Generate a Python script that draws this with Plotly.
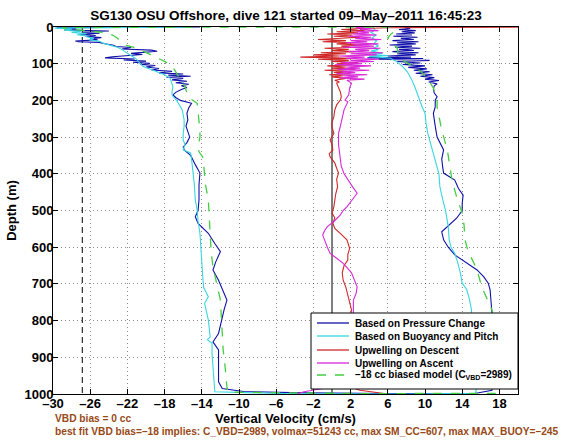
import plotly.graph_objects as go

# ---------------- data ----------------
pressure_depth = [0, 2, 5, 8, 11, 14, 17, 20, 23, 26, 29, 32, 35, 38, 40, 42, 45, 49, 53, 56, 60, 63, 66, 69, 72, 75, 78, 81, 84, 87, 90, 93, 96, 99, 102, 105, 109, 113, 117, 121, 125, 128, 131, 134, 137, 140, 144, 148, 152, 156, 160, 165, 170, 178, 185, 192, 200, 208, 220, 235, 253, 270, 285, 300, 315, 327, 335, 350, 375, 398, 430, 470, 500, 517, 535, 562, 590, 612, 640, 662, 690, 720, 744, 770, 790, 815, 835, 858, 880, 925, 967, 985, 993, 997, 999,
                  998, 990, 950, 900, 850, 800, 780, 750, 716, 698, 680, 662, 640, 621, 600, 580, 558, 544, 521, 500, 480, 458, 440, 417, 398, 381, 360, 335, 300, 270, 235, 218, 199, 190, 180, 170, 160, 155, 150, 146, 142, 138, 134, 130, 126, 122, 118, 114, 110, 106, 102, 98, 94, 91, 88, 86, 84, 82, 79, 76, 73, 70, 67, 64, 61, 58, 55, 52, 49, 46, 43, 40, 37, 34, 31, 28, 25, 22, 19, 16, 13, 10, 7, 4, 1, 0]
pressure_vel = [-14.2, -29.6, -27.5, -28.8, -24.0, -26.8, -25.0, -27.2, -25.4, -26.4, -24.8, -26.0, -25.2, -27.6, -27.3, -25.0, -24.6, -23.6, -23.2, -21.6, -22.6, -19.4, -18.8, -20.8, -21.6, -20.4, -22.4, -23.6, -24.4, -21.2, -22.4, -20.0, -21.4, -19.6, -20.6, -19.0, -20.0, -18.6, -19.4, -17.2, -18.6, -16.0, -17.6, -15.2, -17.8, -16.0, -17.2, -15.6, -16.8, -15.4, -16.2, -15.6, -16.2, -16.8, -17.1, -16.8, -16.3, -15.1, -15.4, -15.6, -15.5, -15.7, -15.5, -15.3, -15.6, -16.0, -15.9, -15.2, -14.7, -14.2, -14.3, -14.3, -14.4, -14.7, -14.4, -13.3, -12.6, -12.0, -12.5, -12.8, -12.2, -11.7, -11.3, -11.6, -11.8, -12.0, -12.2, -12.8, -12.2, -12.2, -12.2, -11.8, -9.5, -3.0, 6.0,
                15.5, 17.2, 17.3, 17.0, 17.2, 17.3, 17.2, 17.1, 17.0, 16.8, 16.3, 15.6, 14.3, 13.2, 12.5, 12.0, 11.8, 12.4, 13.4, 14.0, 14.0, 14.1, 13.6, 13.2, 12.0, 11.9, 11.8, 12.0, 11.3, 11.1, 10.9, 11.1, 11.1, 11.3, 11.0, 10.9, 11.0, 11.3, 10.4, 11.5, 10.0, 11.0, 9.5, 10.8, 9.0, 10.5, 8.8, 10.2, 8.2, 10.0, 7.6, 9.5, 7.0, 10.5, 5.0, 9.8, 3.8, 8.5, 6.0, 9.0, 7.0, 9.3, 6.5, 8.8, 7.2, 9.5, 6.8, 8.6, 6.2, 9.0, 7.0, 9.3, 6.5, 8.8, 7.4, 9.2, 6.6, 8.6, 6.9, 8.9, 7.5, 9.0, 7.2, 8.4, 7.8, 9.5]

buoyancy_depth = [0, 3, 6, 9, 12, 15, 18, 21, 24, 27, 31, 35, 39, 44, 50, 56, 63, 70, 75, 81, 88, 95, 102, 108, 115, 122, 130, 140, 150, 163, 175, 185, 192, 200, 213, 226, 240, 253, 270, 290, 308, 320, 335, 343, 360, 380, 398, 430, 471, 499, 530, 562, 600, 654, 680, 710, 735, 753, 775, 798, 820, 845, 852, 862, 890, 925, 960, 994, 999, 1000,
                  998, 990, 950, 900, 850, 800, 771, 744, 716, 698, 670, 640, 617, 600, 580, 544, 499, 470, 435, 400, 381, 360, 335, 310, 290, 260, 235, 218, 204, 185, 163, 140, 122, 108, 95, 85, 80, 78, 75, 72, 68, 65, 62, 58, 52, 45, 38, 30, 22, 15, 8, 0]
buoyancy_vel = [-15.0, -29.8, -28.0, -28.8, -27.0, -28.0, -26.4, -27.4, -26.6, -26.3, -25.6, -26.1, -25.0, -24.6, -23.8, -23.0, -22.5, -22.0, -21.8, -21.4, -21.0, -20.8, -20.5, -20.3, -19.5, -18.8, -18.0, -17.4, -17.3, -17.1, -17.2, -17.2, -17.0, -16.7, -16.4, -16.1, -16.0, -15.9, -15.9, -16.0, -16.0, -15.8, -16.0, -15.2, -15.1, -15.0, -14.9, -14.8, -14.7, -14.5, -14.4, -14.2, -14.1, -14.0, -13.9, -13.8, -13.3, -13.7, -13.5, -13.3, -13.2, -13.1, -13.4, -12.9, -12.9, -12.8, -12.7, -12.6, -5.0, 8.0,
                15.4, 15.5, 15.3, 15.2, 15.1, 15.0, 15.0, 14.8, 14.5, 14.0, 13.8, 13.5, 13.2, 12.8, 12.6, 12.5, 12.2, 11.9, 11.6, 11.5, 11.3, 11.0, 10.8, 10.5, 10.3, 10.1, 10.0, 9.7, 9.5, 9.2, 8.9, 8.5, 8.1, 7.6, 7.0, 6.3, 4.0, 6.0, 3.6, 5.4, 4.6, 4.2, 5.0, 4.4, 5.0, 4.5, 4.8, 4.3, 4.7, 4.2, 4.6, 4.4]

upwell_desc_depth = [0, 1, 2, 4, 7, 10, 13, 16, 19, 22, 25, 28, 31, 34, 37, 40, 43, 46, 49, 52, 55, 58, 61, 64, 67, 70, 73, 76, 79, 82, 84, 86, 88, 91, 94, 97, 100, 103, 106, 109, 112, 115, 118, 121, 124, 127, 130, 133, 136, 140, 145, 150, 153, 165, 177, 190, 199, 212, 226, 245, 260, 272, 290, 308, 320, 335, 345, 354, 370, 385, 398, 415, 435, 455, 471, 490, 507, 520, 535, 549, 565, 580, 603, 620, 635, 650, 670, 690, 710, 730, 744, 771, 798, 830, 870, 920, 960, 980, 990, 997, 1000]
upwell_desc_vel = [22.0, 12.0, 6.2, 3.0, 1.0, 3.5, 0.5, 2.8, -0.5, 2.2, 0.2, 3.0, 0.8, -1.5, 1.5, -1.0, 2.5, 0.5, 3.2, 1.0, 2.0, -0.8, 1.8, 0.0, 2.5, -1.2, 1.5, -2.0, 0.8, -3.4, 0.5, 2.5, -1.5, 1.8, 0.0, 2.8, 0.5, 2.2, -0.5, 1.5, 0.0, 2.5, -0.8, 1.6, 0.2, 2.0, -0.3, 1.2, 0.0, 1.5, 0.3, 0.8, 0.5, 0.7, 0.9, 1.0, 0.9, 0.5, 0.3, 0.2, 0.0, 0.0, 0.2, -0.2, 0.0, 0.1, -0.3, -0.2, 0.3, 0.5, 0.7, 0.5, 0.6, 0.4, 0.3, 0.2, 0.0, 0.3, 0.1, 0.3, 1.0, 1.6, 1.9, 1.7, 1.7, 1.3, 1.1, 1.2, 1.5, 1.7, 1.9, 2.1, 1.9, 1.8, 1.7, 1.7, 1.8, 1.9, 3.0, 4.8, 6.0]

upwell_asc_depth = [1000, 994, 985, 960, 920, 870, 820, 790, 771, 744, 725, 708, 690, 670, 655, 644, 630, 617, 600, 580, 567, 555, 544, 530, 512, 500, 490, 470, 453, 435, 417, 400, 380, 362, 340, 320, 305, 290, 270, 245, 225, 204, 199, 185, 166, 153, 145, 142, 139, 136, 133, 130, 127, 124, 121, 118, 115, 112, 109, 106, 103, 100, 97, 94, 91, 88, 85, 82, 79, 76, 73, 70, 67, 64, 61, 58, 55, 52, 49, 46, 43, 40, 37, 34, 31, 28, 25, 22, 19, 16, 13, 10, 7, 4, 2, 0]
upwell_asc_vel = [-3.8, -3.0, -1.0, 0.5, 1.5, 2.0, 2.2, 2.3, 2.3, 2.3, 2.6, 2.7, 2.4, 2.1, 1.6, 1.2, 0.5, -0.2, -0.5, -0.8, -1.0, -0.8, -0.5, 0.2, 0.9, 1.2, 1.6, 2.2, 2.7, 2.2, 1.7, 1.3, 1.0, 0.9, 0.8, 0.7, 0.7, 0.7, 0.9, 1.1, 1.3, 1.7, 1.4, 1.8, 1.9, 2.1, 1.6, 3.5, 0.8, 2.8, 1.2, 3.8, 0.5, 2.5, 1.0, 4.0, 0.6, 3.0, 1.5, 4.2, 0.3, 3.2, 1.0, 4.5, 2.0, 5.0, 1.5, 3.5, 0.8, 4.8, 2.0, 5.5, 1.8, 4.0, 2.5, 5.2, 1.2, 4.5, 2.2, 5.0, 1.5, 3.8, 2.0, 5.3, 2.5, 4.2, 1.8, 4.8, 2.2, 4.0, 2.6, 5.0, 3.0, 4.2, 2.5, 3.5]

model_depth = [0, 1, 5, 10, 16, 22, 30, 40, 50, 55, 63, 72, 85, 95, 110, 126, 145, 163, 180, 194, 208, 230, 245, 265, 281, 300, 327, 340, 354, 375, 398, 430, 471, 520, 562, 610, 654, 700, 744, 790, 835, 880, 925, 960, 980, 995, 999,
               998, 990, 950, 900, 850, 800, 771, 744, 708, 662, 608, 580, 540, 507, 463, 417, 380, 335, 281, 235, 218, 204, 185, 166, 150, 139, 125, 112, 100, 85, 70, 57, 45, 30, 20, 14, 8, 0]
model_vel = [6.3, -29.0, -28.4, -26.6, -24.2, -23.6, -23.1, -22.7, -22.1, -21.4, -20.5, -19.8, -18.8, -17.9, -17.1, -16.7, -16.2, -15.8, -15.6, -15.3, -14.5, -14.4, -14.4, -14.3, -14.2, -14.2, -14.4, -14.3, -13.9, -13.8, -13.7, -13.6, -13.3, -13.2, -13.1, -13.0, -12.8, -12.4, -12.0, -11.9, -11.8, -11.7, -11.5, -11.4, -11.3, -11.2, 4.0,
             18.0, 18.0, 17.8, 17.6, 17.5, 17.4, 17.2, 16.7, 16.1, 15.6, 14.6, 14.3, 14.2, 14.0, 13.4, 12.9, 12.7, 12.4, 11.8, 11.4, 11.3, 11.3, 11.1, 10.9, 10.5, 10.2, 9.7, 9.1, 8.2, 7.3, 7.1, 7.0, 6.5, 6.0, 6.3, 6.6, 6.2, 6.3]

reference_lines_vel = [-26.85, 0.0]      # dashed limit line, zero line
depth_extent = [0, 1000]

x_tick_vals = [-30, -26, -22, -18, -14, -10, -6, -2, 2, 6, 10, 14, 18]
x_tick_text = ["\u201330", "\u201326", "\u201322", "\u201318", "\u201314", "\u201310", "\u20136", "\u20132", "2", "6", "10", "14", "18"]
y_tick_vals = [0, 100, 200, 300, 400, 500, 600, 700, 800, 900, 1000]

series_names = ["Based on Pressure Change", "Based on Buoyancy and Pitch", "Upwelling on Descent",
                "Upwelling on Ascent", "\u201318 cc biased model (C<sub>VBD</sub>=2989)"]
series_colors = ["#1010a8", "#38d6e0", "#d02828", "#d828d8", "#44cc44"]
series_dash = ["solid", "solid", "solid", "solid", "dash"]

title_text = "SG130 OSU Offshore, dive 121 started 09\u2013May\u20132011 16:45:23"
note1 = "VBD bias = 0 cc"
note2 = "best fit VBD bias=\u201318 implies: C_VBD=2989, volmax=51243 cc, max SM_CC=607, max MAX_BUOY=\u2013245"

# ---------------- figure ----------------
W, H = 570, 440
L, R, T, B = 53, 518, 27, 394
FONT = "Liberation Sans, Arial, Helvetica, sans-serif"


def px(xp):
    return (xp - L) / (R - L)


def py(yp):
    return (B - yp) / (B - T)


fig = go.Figure()

# reference vertical lines
fig.add_trace(go.Scatter(x=[reference_lines_vel[0]] * 2, y=depth_extent, mode="lines",
                         line=dict(color="black", width=1, dash="6px,4px"), showlegend=False, hoverinfo="skip"))
fig.add_trace(go.Scatter(x=[reference_lines_vel[1]] * 2, y=depth_extent, mode="lines",
                         line=dict(color="black", width=1), showlegend=False, hoverinfo="skip"))

series = [(pressure_vel, pressure_depth), (buoyancy_vel, buoyancy_depth),
          (upwell_desc_vel, upwell_desc_depth), (upwell_asc_vel, upwell_asc_depth),
          (model_vel, model_depth)]
for (xv, yv), name, col, dash in zip(series, series_names, series_colors, series_dash):
    fig.add_trace(go.Scatter(x=xv, y=yv, mode="lines", name=name,
                             line=dict(color=col, width=1.1 if dash == "solid" else 1.3, dash=dash),
                             showlegend=False))

# manual compact legend (MATLAB style)
leg_x0, leg_x1, leg_y0, leg_y1 = 311, 518, 313, 389
shapes = [dict(type="rect", xref="paper", yref="paper", x0=px(leg_x0), x1=px(leg_x1),
               y0=py(leg_y1), y1=py(leg_y0), fillcolor="white", line=dict(color="black", width=1), layer="above")]
annotations = []
row_y = [323, 336, 350, 363, 375]
for yy, name, col, dash in zip(row_y, series_names, series_colors, series_dash):
    shapes.append(dict(type="line", xref="paper", yref="paper", x0=px(317), x1=px(349), y0=py(yy), y1=py(yy),
                       line=dict(color=col, width=1.3, dash=dash), layer="above"))
    annotations.append(dict(text=name, xref="paper", yref="paper", x=px(353), y=py(yy), xanchor="left",
                            yanchor="middle", showarrow=False, font=dict(family=FONT, size=10, color="black", weight="bold")))

annotations.append(dict(text=note1, xref="paper", yref="paper", x=px(53), y=py(418), xanchor="left", yanchor="middle",
                        showarrow=False, font=dict(family=FONT, size=10.2, color="#974916", weight="bold")))
annotations.append(dict(text=note2, xref="paper", yref="paper", x=px(53), y=py(431), xanchor="left", yanchor="middle",
                        showarrow=False, font=dict(family=FONT, size=10.2, color="#974916", weight="bold")))

fig.update_layout(
    width=W, height=H,
    margin=dict(l=L, r=W - R, t=T, b=H - B, pad=0, autoexpand=False),
    paper_bgcolor="white", plot_bgcolor="white",
    font=dict(family=FONT, size=12, color="black"),
    title=dict(text=title_text, x=px(286), xref="paper", xanchor="center", y=1 - 15 / H, yref="container",
               yanchor="middle", automargin=False, font=dict(family=FONT, size=13.5, weight="bold")),
    shapes=shapes, annotations=annotations, showlegend=False,
)
fig.update_xaxes(range=[-30, 20], tickvals=x_tick_vals, ticktext=x_tick_text, ticks="inside", ticklen=5,
                 tickcolor="black", showline=True, linecolor="black", linewidth=1, mirror="ticks", automargin=True,
                 ticklabelstandoff=-3,
                 showgrid=True, gridcolor="rgba(0,0,0,0.45)", griddash="1px,3px", gridwidth=1, zeroline=False,
                 tickfont=dict(family=FONT, size=13, weight="bold"),
                 title=dict(text="Vertical Velocity (cm/s)", standoff=2, font=dict(family=FONT, size=13, weight="bold")))
fig.update_yaxes(range=[1000, 0], tickvals=y_tick_vals, ticks="inside", ticklen=5,
                 tickcolor="black", showline=True, linecolor="black", linewidth=1, mirror="ticks", automargin=True,
                 ticklabelstandoff=-4,
                 showgrid=True, gridcolor="rgba(0,0,0,0.45)", griddash="1px,3px", gridwidth=1, zeroline=False,
                 tickfont=dict(family=FONT, size=13, weight="bold"),
                 title=dict(text="Depth (m)", standoff=4, font=dict(family=FONT, size=13, weight="bold")))

fig.write_html("out.html", config={"displayModeBar": False},
               post_script="document.body.style.margin='0px';document.body.style.overflow='hidden';")
